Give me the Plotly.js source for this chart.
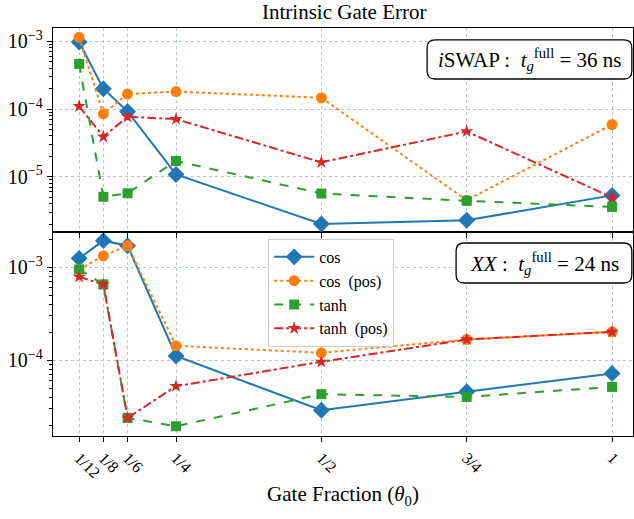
<!DOCTYPE html>
<html>
<head>
<meta charset="utf-8">
<script src="https://cdn.plot.ly/plotly-3.0.1.min.js"></script>
<style>html,body{margin:0;padding:0;background:#fff}#chart{width:634px;height:519px}</style>
</head>
<body>
<div id="chart"></div>
<script>
const fractions = [1/12, 1/8, 1/6, 1/4, 1/2, 3/4, 1];
const tickLabels = ['1/12', '1/8', '1/6', '1/4', '1/2', '3/4', '1'];
const seriesNames = ['cos', 'cos  (pos)', 'tanh', 'tanh  (pos)'];

// iSWAP panel (top)
const iswapCos     = [9.8e-4, 2.0e-4, 9.2e-5, 1.08e-5, 2.0e-6, 2.27e-6, 5.3e-6];
const iswapCosPos  = [1.15e-3, 8.5e-5, 1.67e-4, 1.81e-4, 1.47e-4, 4.5e-6, 5.9e-5];
const iswapTanh    = [4.65e-4, 5.05e-6, 5.7e-6, 1.71e-5, 5.65e-6, 4.4e-6, 3.58e-6];
const iswapTanhPos = [1.1e-4, 3.9e-5, 7.7e-5, 7.1e-5, 1.63e-5, 4.67e-5, 4.93e-6];

// XX panel (bottom)
const xxCos     = [1.25e-3, 1.94e-3, 1.71e-3, 1.11e-4, 2.89e-5, 4.56e-5, 7.2e-5];
const xxCosPos  = [9.5e-4, 1.33e-3, 1.71e-3, 1.43e-4, 1.2e-4, 1.67e-4, 2.02e-4];
const xxTanh    = [9.5e-4, 6.56e-4, 2.39e-5, 1.94e-5, 4.3e-5, 4.02e-5, 5.15e-5];
const xxTanhPos = [7.9e-4, 6.56e-4, 2.39e-5, 5.25e-5, 9.6e-5, 1.67e-4, 2.02e-4];

const topTickVals = [1e-5, 1e-4, 1e-3];
const topTickText = ['10<sup>−5</sup>', '10<sup>−4</sup>', '10<sup>−3</sup>'];
const botTickVals = [1e-4, 1e-3];
const botTickText = ['10<sup>−4</sup>', '10<sup>−3</sup>'];

const styles = [
  {color: '#1f77b4', dash: 'solid', symbol: 'diamond', size: 13},
  {color: '#ff7f0e', dash: 'dot', symbol: 'circle', size: 11},
  {color: '#2ca02c', dash: 'dash', symbol: 'square', size: 10},
  {color: '#d62728', dash: 'dashdot', symbol: 'star', size: 10}
];

const FONT = 'Liberation Serif';
const traces = [];
const topSets = [iswapCos, iswapCosPos, iswapTanh, iswapTanhPos];
const botSets = [xxCos, xxCosPos, xxTanh, xxTanhPos];
topSets.forEach((ys, i) => {
  const s = styles[i];
  traces.push({x: fractions, y: ys, xaxis: 'x2', yaxis: 'y2', mode: 'lines+markers',
    name: seriesNames[i], showlegend: false,
    line: {color: s.color, width: 2, dash: s.dash},
    marker: {color: s.color, symbol: s.symbol, size: s.size, line: {width: 0}}});
});
botSets.forEach((ys, i) => {
  const s = styles[i];
  traces.push({x: fractions, y: ys, xaxis: 'x', yaxis: 'y', mode: 'lines+markers',
    name: seriesNames[i], showlegend: true,
    line: {color: s.color, width: 2, dash: s.dash},
    marker: {color: s.color, symbol: s.symbol, size: s.size, line: {width: 0}}});
});

function minorVals(lo, hi) {
  const v = [];
  for (let e = lo; e <= hi; e++) for (let m = 2; m <= 9; m++) v.push(m * Math.pow(10, e));
  return v;
}

const gridStyle = {showgrid: true, gridcolor: '#b0c4de', griddash: 'dot', gridwidth: 1};
const xCommon = Object.assign({
  type: 'linear', range: [0.0384, 1.036], tickmode: 'array', tickvals: fractions, ticktext: tickLabels,
  showline: true, linecolor: '#000', linewidth: 1.3, mirror: true, ticks: 'outside', ticklen: 5,
  tickcolor: '#000', zeroline: false
}, gridStyle);

const layout = {
  width: 634, height: 519,
  margin: {l: 53, r: 1, t: 28, b: 83},
  paper_bgcolor: '#fff', plot_bgcolor: '#fff',
  font: {family: FONT, color: '#000'},
  title: {text: 'Intrinsic Gate Error', font: {family: FONT, size: 21, color: '#000'}, x: 0.543, xanchor: 'center', y: 0.977, yanchor: 'middle'},
  xaxis: Object.assign({}, xCommon, {anchor: 'y', tickangle: 45, tickfont: {family: FONT, size: 16},
    title: {text: 'Gate Fraction (<i>θ</i><sub>0</sub>)', font: {family: FONT, size: 21}, standoff: 6}}),
  xaxis2: Object.assign({}, xCommon, {anchor: 'y2', matches: 'x', showticklabels: false}),
  yaxis: Object.assign({
    domain: [0, 0.5], type: 'log', range: [-4.817, -2.619], tickmode: 'array', tickvals: botTickVals, ticktext: botTickText,
    showline: true, linecolor: '#000', linewidth: 1.3, mirror: true, ticks: 'outside', ticklen: 5, tickcolor: '#000',
    tickfont: {family: FONT, size: 20}, zeroline: false,
    minor: {tickmode: 'array', tickvals: minorVals(-5, -3), ticks: 'outside', ticklen: 3, tickcolor: '#000', showgrid: false}
  }, gridStyle),
  yaxis2: Object.assign({
    domain: [0.5, 1], type: 'log', range: [-5.817, -2.802], tickmode: 'array', tickvals: topTickVals, ticktext: topTickText,
    showline: true, linecolor: '#000', linewidth: 1.3, mirror: true, ticks: 'outside', ticklen: 5, tickcolor: '#000',
    tickfont: {family: FONT, size: 20}, zeroline: false,
    minor: {tickmode: 'array', tickvals: minorVals(-6, -3), ticks: 'outside', ticklen: 3, tickcolor: '#000', showgrid: false}
  }, gridStyle),
  legend: {x: 0.371, y: 0.483, xanchor: 'left', yanchor: 'top', bgcolor: 'rgba(255,255,255,0.9)',
    bordercolor: '#cccccc', borderwidth: 1, font: {family: FONT, size: 16, color: '#000'}, tracegroupgap: 0, itemwidth: 40},
  shapes: [],
  annotations: [
    {xref: 'paper', yref: 'paper', x: 0.8225, y: 0.923, xanchor: 'center', yanchor: 'middle', showarrow: false,
     text: '<i>i</i>SWAP :  <i>t</i><sub><i>g</i></sub><sup>full</sup> = 36 ns', font: {family: FONT, size: 21}},
    {xref: 'paper', yref: 'paper', x: 0.8475, y: 0.424, xanchor: 'center', yanchor: 'middle', showarrow: false,
     text: '<i>XX</i> :  <i>t</i><sub><i>g</i></sub><sup>full</sup> = 24 ns', font: {family: FONT, size: 21}}
  ]
};

function roundRect(x0, y0, x1, y1) {
  const rx = 8 / 580, ry = 8 / 408;
  return `M ${x0 + rx},${y1} L ${x1 - rx},${y1} Q ${x1},${y1} ${x1},${y1 - ry} L ${x1},${y0 + ry} Q ${x1},${y0} ${x1 - rx},${y0} ` +
    `L ${x0 + rx},${y0} Q ${x0},${y0} ${x0},${y0 + ry} L ${x0},${y1 - ry} Q ${x0},${y1} ${x0 + rx},${y1} Z`;
}
layout.shapes.push({type: 'path', xref: 'paper', yref: 'paper', path: roundRect(0.645, 0.875, 0.998, 0.971),
  line: {color: '#000', width: 1.3}, fillcolor: 'rgba(255,255,255,0.85)', layer: 'above'});
layout.shapes.push({type: 'path', xref: 'paper', yref: 'paper', path: roundRect(0.695, 0.375, 0.998, 0.473),
  line: {color: '#000', width: 1.3}, fillcolor: 'rgba(255,255,255,0.85)', layer: 'above'});

Plotly.newPlot('chart', traces, layout, {staticPlot: true, displayModeBar: false});
</script>
</body>
</html>
